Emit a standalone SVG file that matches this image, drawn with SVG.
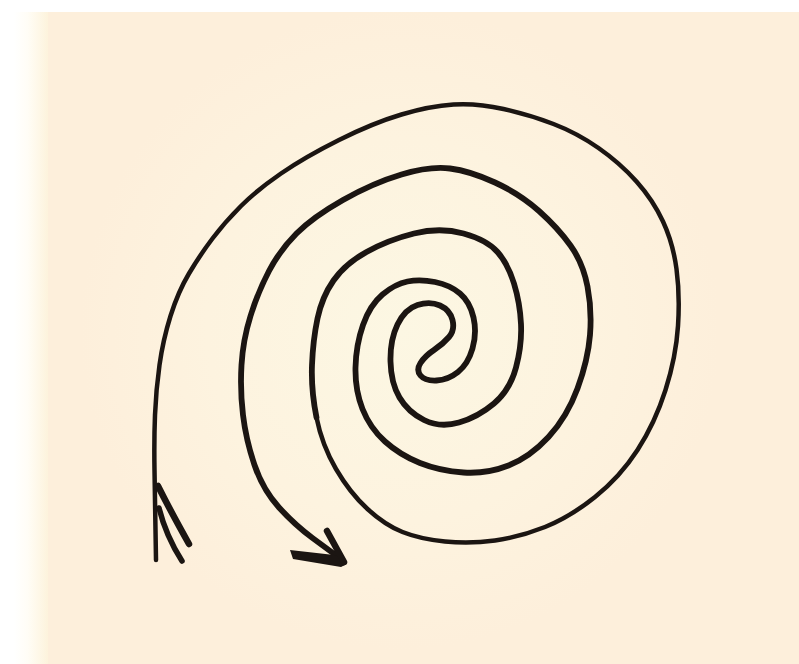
<svg xmlns="http://www.w3.org/2000/svg" width="799" height="664" viewBox="0 0 799 664">
<style>
.ink{fill:none;stroke:#1b1512;stroke-linecap:round;stroke-linejoin:round}
.outer{stroke-width:4.5}
.inner{stroke-width:5.8}
.barb{stroke-width:6.5}
</style>
<defs>
<linearGradient id="edge" x1="0" y1="0" x2="1" y2="0" gradientUnits="objectBoundingBox">
<stop offset="0" stop-color="#ffffff"/>
<stop offset="0.4" stop-color="#fffdf6"/>
<stop offset="1" stop-color="#fdf3dc"/>
</linearGradient>
<radialGradient id="glow" cx="400" cy="330" r="320" gradientUnits="userSpaceOnUse">
<stop offset="0" stop-color="#fcf7e3"/>
<stop offset="0.6" stop-color="#fdf3df"/>
<stop offset="1" stop-color="#fdefdb"/>
</radialGradient>
</defs>
<g id="background">
<rect x="0" y="0" width="799" height="664" fill="#ffffff"/>
<rect x="40" y="12" width="759" height="652" fill="url(#glow)"/>
<rect x="14" y="12" width="34" height="652" fill="url(#edge)"/>
</g>
<g id="spiral">
<path class="ink outer" d="M156,560 L155.5,530 Q155,500 154.5,470 Q154,440 155,415 Q156,390 159.5,365 Q163,340 170.5,316 Q178,292 189,273.5 Q200,255 212.5,238.5 Q225,222 241,206 Q257,190 281,173.5 Q305,157 339,140 Q373,123 401.5,114.5 Q430,106 453.5,104.5 Q477,103 503.5,109 Q530,115 553.5,124 Q577,133 598.5,148 Q620,163 636.5,181.5 Q653,200 663,221.5 Q673,243 676.5,269 Q680,295 678,326 Q676,357 665.5,390 Q655,423 637.5,450 Q620,477 595,497 Q570,517 545,527 Q520,537 495,540.5 Q470,544 445,541.5 Q420,539 402.5,532 Q385,525 367.5,509 Q350,493 336,469 Q322,445 316.5,417.5"/>
<path class="ink inner" d="M316.5,417.5 Q311,390 312,365 Q313,340 317.5,318.5 Q322,297 333.5,280.5 Q345,264 366.5,252 Q388,240 414,233.5 Q440,227 463.5,233.5 Q487,240 497.5,252 Q508,264 514,283.5 Q520,303 521,324 Q522,345 516,367.5 Q510,390 494,403.5 Q478,417 459,422.5 Q440,428 424,420 Q408,412 399.5,397.5 Q391,383 390.5,361.5 Q390,340 397.5,324.5 Q405,309 417.5,305 Q430,301 440,305.5 Q450,310 452.5,320 Q455,330 449,337 Q443,344 434,350 Q425,356 420.5,363 Q416,370 420.5,375.5 Q425,381 436.5,380.5 Q448,380 458,372 Q468,364 472.5,348.5 Q477,333 473.5,317.5 Q470,302 460,293.5 Q450,285 435,282 Q420,279 407.5,281.5 Q395,284 382.5,294.5 Q370,305 363,325 Q356,345 355.5,367.5 Q355,390 362.5,409 Q370,428 385,441.5 Q400,455 420,463 Q440,471 463.5,472.5 Q487,474 508.5,465.5 Q530,457 548.5,437 Q567,417 577.5,388.5 Q588,360 590,335 Q592,310 587.5,286.5 Q583,263 570.5,245.5 Q558,228 539,211 Q520,194 495,182.5 Q470,171 450,168.5 Q430,166 401.5,174.5 Q373,183 343,200 Q313,217 296.5,233.5 Q280,250 269,271 Q258,292 250.5,316 Q243,340 241.5,365 Q240,390 243,415 Q246,440 254.5,465 Q263,490 279,507.5 Q295,525 312.5,538 L341,559"/>
</g>
<g id="arrowheads">
<g id="arrow-left">
<path class="ink barb" d="M158,486 Q170,510 189,544"/>
<path class="ink" style="stroke-width:5.5" d="M159,508 Q166,536 182,561"/>
</g>
<g id="arrow-right">
<path fill="#1b1512" d="M290,550 L343,556 L347,564 L341,567 L293,559 Z"/>
<line class="ink barb" x1="327" y1="531" x2="344" y2="562"/>
</g>
</g>
</svg>
